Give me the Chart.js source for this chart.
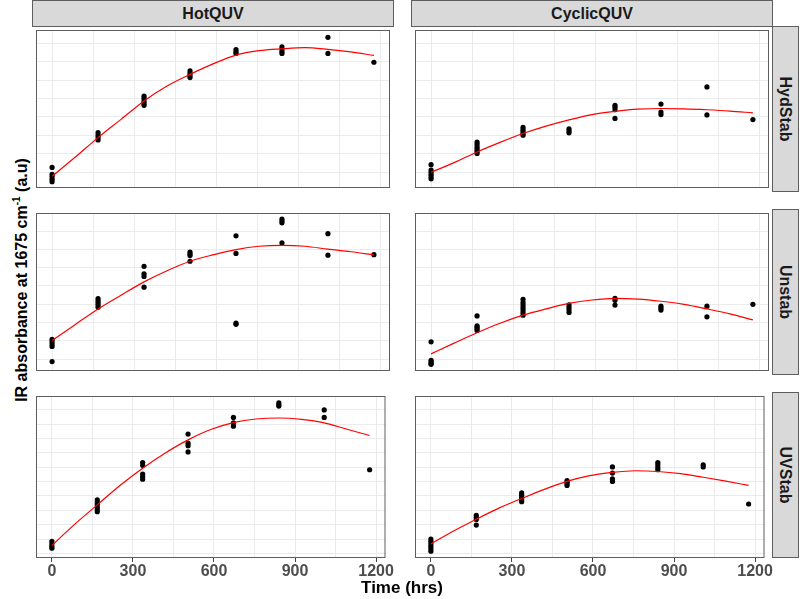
<!DOCTYPE html>
<html>
<head>
<meta charset="utf-8">
<script src="https://cdn.jsdelivr.net/npm/chart.js@4/dist/chart.umd.min.js"></script>
<style>
body { margin: 0; background: #fff; font-family: "Liberation Sans", Arial, sans-serif; }
#wrap { position: relative; width: 800px; height: 599px; overflow: hidden; background: #fff; }
canvas { position: absolute; }
.strip { position: absolute; background: #d9d9d9; border: 1px solid #5e5e5e; box-sizing: border-box;
  display: flex; align-items: center; justify-content: center; font-weight: bold; font-size: 16px; color: #1a1a1a; }
.strip.side span { transform: rotate(90deg); white-space: nowrap; }
#ytitle { position: absolute; left: 21px; top: 280px; transform: translate(-50%, -50%) rotate(-90deg);
  white-space: nowrap; font-weight: bold; font-size: 16px; color: #000; }
#ytitle sup { font-size: 10px; }
#xtitle { position: absolute; left: 402px; top: 588px; transform: translate(-50%, -50%);
  white-space: nowrap; font-weight: bold; font-size: 17px; color: #000; }
</style>
</head>
<body>
<div id="wrap"></div>
<script>
// sampling times (hrs) and fitted-curve read positions
const times = [0, 168, 336, 504, 672, 840, 1008, 1176];
const fitTimes = [0, 84, 168, 252, 336, 420, 504, 588, 672, 756, 840, 924, 1008, 1092, 1176];
const xGrid = [0, 150, 300, 450, 600, 750, 900, 1050, 1200];
const exposures = ['HotQUV', 'CyclicQUV'];
const stabilisers = ['HydStab', 'Unstab', 'UVStab'];

// y values are in grid-step units (no y labels in the original), one list per time
const hotHydStab = [[0.26,-0.12,-0.25,-0.38,-0.51],[2.15,2.01,1.88,1.75],[4.13,3.99,3.85,3.73,3.63],[5.50,5.36,5.24,5.14],[6.65,6.53,6.45],[6.81,6.69,6.55,6.45],[7.32,6.45],[5.97]];
const hotHydStabFit = [-0.22,0.81,1.88,2.87,3.87,4.68,5.31,5.88,6.36,6.60,6.70,6.76,6.67,6.53,6.34];
const hotUnstab = [[1.08,0.95,0.82,0.69,-0.14],[3.30,3.18,3.06,2.95,2.83],[5.07,4.66,4.52,3.93],[5.85,5.75,5.66,5.35],[6.74,5.78,1.96,1.90],[7.66,7.55,7.45,6.35],[6.86,5.68],[5.71]];
const hotUnstabFit = [1.01,1.88,2.74,3.49,4.22,4.83,5.35,5.70,5.99,6.17,6.22,6.17,6.01,5.87,5.70];
const hotUVStab = [[-0.16,-0.34,-0.50,-0.64],[2.72,2.53,2.38,2.21,2.04,1.90],[5.32,5.13,4.52,4.34,4.16],[7.30,6.67,6.49,6.06],[8.46,8.08,7.85],[9.48,9.34,9.25],[8.98,8.46],[4.82]];
const hotUVStabFit = [-0.45,1.02,2.38,3.73,4.93,5.99,6.90,7.62,8.10,8.35,8.42,8.32,8.08,7.64,7.20];
const cycHydStab = [[0.41,0.12,0,-0.13,-0.24,-0.36],[1.63,1.50,1.36,1.24,1.12,1.02],[2.44,2.32,2.22,2.10,2.01],[2.36,2.24,2.14],[3.63,3.53,3.39,2.92],[3.70,3.27,3.13],[4.63,3.11],[2.86]];
const cycHydStabFit = [0,0.52,1.10,1.62,2.10,2.50,2.84,3.13,3.30,3.42,3.46,3.44,3.39,3.32,3.22];
const cycUnstab = [[0.94,-0.07,-0.16,-0.24,-0.29],[2.36,1.82,1.74,1.65,1.56],[3.27,3.09,2.95,2.81,2.68,2.54,2.40],[2.97,2.83,2.69,2.55],[3.32,3.21,2.95],[2.89,2.78,2.68],[2.89,2.31],[2.99]];
const cycUnstabFit = [0.28,0.87,1.44,1.96,2.40,2.74,3.04,3.23,3.32,3.28,3.16,2.99,2.74,2.47,2.14];
const cycUVStab = [[0,-0.16,-0.34,-0.50,-0.68,-0.84],[1.65,1.51,1.36,0.97],[3.21,3.05,2.89,2.74,2.60],[4.07,3.96,3.84,3.73],[5.02,4.59,4.18,4.01],[5.32,5.16,4.98,4.82],[5.16,5.02],[2.44]];
const cycUVStabFit = [-0.34,0.56,1.38,2.15,2.82,3.46,4.01,4.41,4.64,4.75,4.70,4.55,4.30,4.03,3.73];

// free y scale per row
const rowYMin = [-0.856, -0.656, -1.317];
const rowYMax = [7.72, 7.99, 9.95];
const rowYGrid = [[0,1,2,3,4,5,6,7], [0,1,2,3,4,5,6,7], [-1,0,1,2,3,4,5,6,7,8,9]];

const panelPoints = [[hotHydStab, cycHydStab], [hotUnstab, cycUnstab], [hotUVStab, cycUVStab]];
const panelFits = [[hotHydStabFit, cycHydStabFit], [hotUnstabFit, cycUnstabFit], [hotUVStabFit, cycUVStabFit]];

Chart.defaults.font.family = '"Liberation Sans", Arial, sans-serif';

const colLeft = [32, 411];
const panelW = 362;
const rowTop = [26, 209, 392];
const panelH = 166;
const axisH = 34;

const panelBorder = {
    id: 'panelBorder',
    afterDraw(chart) {
        const a = chart.chartArea;
        const ctx = chart.ctx;
        ctx.save();
        ctx.strokeStyle = '#5e5e5e';
        ctx.lineWidth = 1;
        ctx.strokeRect(a.left + 0.5, a.top + 0.5, a.right - a.left - 1, a.bottom - a.top - 1);
        ctx.restore();
    }
};

const wrap = document.getElementById('wrap');

exposures.forEach(function(exp, c) {
    const s = document.createElement('div');
    s.className = 'strip';
    s.style.left = colLeft[c] + 'px';
    s.style.top = '0px';
    s.style.width = panelW + 'px';
    s.style.height = '27px';
    s.textContent = exp;
    wrap.appendChild(s);
});

stabilisers.forEach(function(stab, r) {
    const s = document.createElement('div');
    s.className = 'strip side';
    s.style.left = '772px';
    s.style.top = rowTop[r] + 'px';
    s.style.width = '27px';
    s.style.height = panelH + 'px';
    s.innerHTML = '<span>' + stab + '</span>';
    wrap.appendChild(s);

    exposures.forEach(function(exp, c) {
        const bottom = r === stabilisers.length - 1;
        const cv = document.createElement('canvas');
        cv.width = panelW;
        cv.height = panelH + (bottom ? axisH : 0);
        cv.style.left = colLeft[c] + 'px';
        cv.style.top = rowTop[r] + 'px';
        wrap.appendChild(cv);

        const pts = [];
        panelPoints[r][c].forEach(function(vals, i) {
            vals.forEach(function(v) { pts.push({x: times[i], y: v}); });
        });
        const fit = fitTimes.map(function(t, i) { return {x: t, y: panelFits[r][c][i]}; });

        new Chart(cv, {
            type: 'scatter',
            data: {
                datasets: [{
                    type: 'line',
                    data: fit,
                    borderColor: '#ff0000',
                    borderWidth: 1.2,
                    pointRadius: 0,
                    cubicInterpolationMode: 'monotone',
                    fill: false,
                    order: 0
                }, {
                    data: pts,
                    backgroundColor: '#000',
                    borderWidth: 0,
                    pointRadius: 2.6,
                    order: 1
                }]
            },
            options: {
                responsive: false,
                animation: false,
                devicePixelRatio: 1,
                layout: { padding: 0 },
                plugins: { legend: { display: false }, tooltip: { enabled: false } },
                scales: {
                    x: {
                        type: 'linear',
                        min: -58.8,
                        max: 1234.8,
                        afterBuildTicks: function(axis) { axis.ticks = xGrid.map(function(v) { return {value: v}; }); },
                        afterFit: function(axis) { axis.height = bottom ? axisH : 0; },
                        border: { display: false },
                        grid: {
                            color: '#ebebeb',
                            lineWidth: 1,
                            drawTicks: bottom,
                            tickLength: 4,
                            tickColor: function(ctx) { return ctx.tick && ctx.tick.value % 300 === 0 ? '#444' : 'rgba(0,0,0,0)'; }
                        },
                        ticks: {
                            display: bottom,
                            autoSkip: false,
                            maxRotation: 0,
                            padding: 0,
                            color: '#4d4d4d',
                            font: { size: 16, weight: 'bold' },
                            callback: function(v) { return v % 300 === 0 ? String(v) : ''; }
                        }
                    },
                    y: {
                        type: 'linear',
                        min: rowYMin[r],
                        max: rowYMax[r],
                        afterBuildTicks: function(axis) { axis.ticks = rowYGrid[r].map(function(v) { return {value: v}; }); },
                        afterFit: function(axis) { axis.width = 0; },
                        border: { display: false },
                        grid: { color: '#ebebeb', lineWidth: 1, drawTicks: false },
                        ticks: { display: false }
                    }
                }
            },
            plugins: [panelBorder]
        });
    });
});

const yt = document.createElement('div');
yt.id = 'ytitle';
yt.innerHTML = 'IR absorbance at 1675 cm<sup>-1</sup> (a.u)';
wrap.appendChild(yt);

const xt = document.createElement('div');
xt.id = 'xtitle';
xt.textContent = 'Time (hrs)';
wrap.appendChild(xt);
</script>
</body>
</html>
